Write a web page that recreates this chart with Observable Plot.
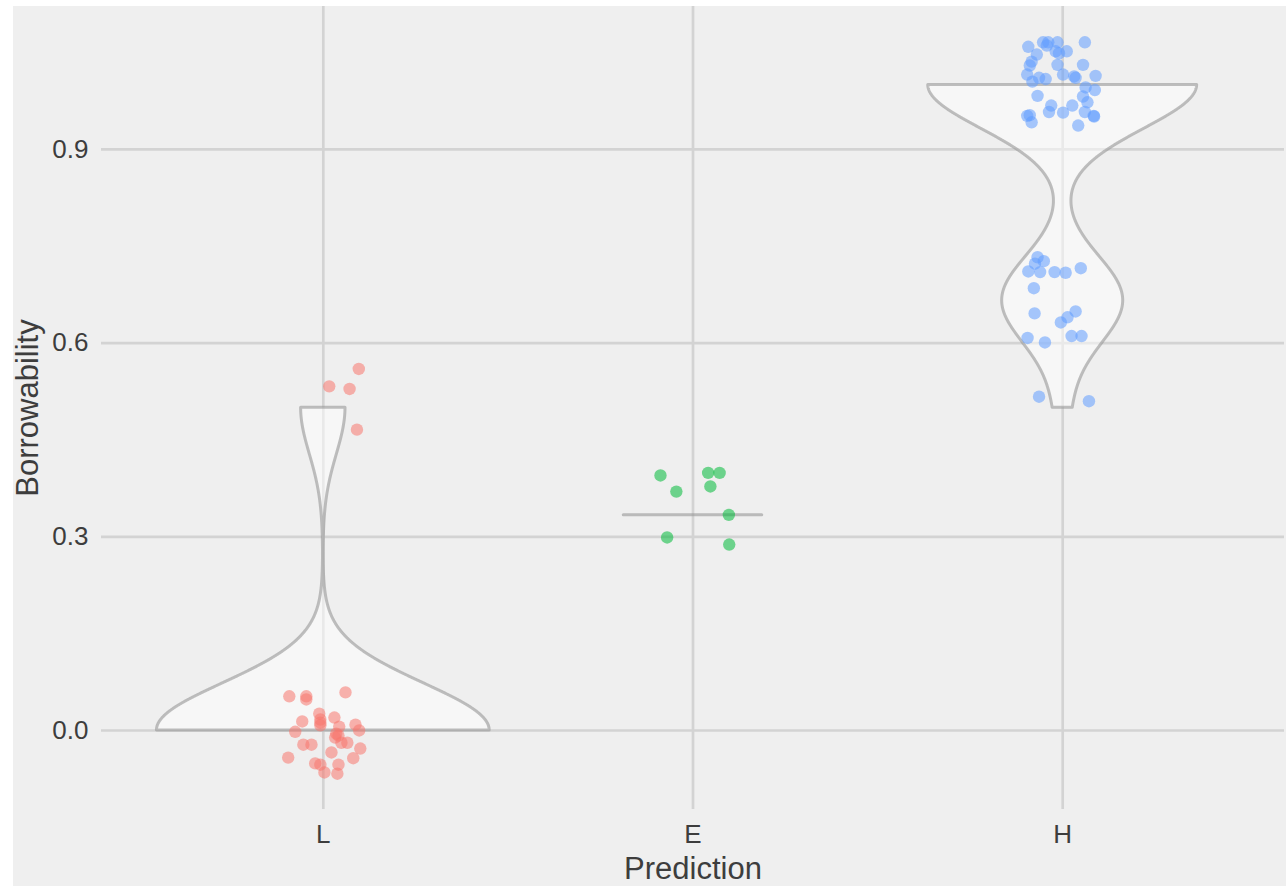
<!DOCTYPE html>
<html>
<head>
<meta charset="utf-8">
<script src="https://cdn.jsdelivr.net/npm/d3@7"></script>
<script src="https://cdn.jsdelivr.net/npm/@observablehq/plot@0.6"></script>
<style>
  html, body { margin: 0; padding: 0; background: #ffffff; overflow: hidden; }
  #bg { position: absolute; left: 13px; top: 6px; width: 1273px; height: 880px; background: #efefef; }
  #chart { position: absolute; left: 0; top: 0; width: 1286px; height: 886px; }
  #chart svg { overflow: visible; }
</style>
</head>
<body>
<div id="bg"></div>
<div id="chart"></div>
<script>
// ---- Categories and tick labels ----
const categories = ["L", "E", "H"];
const yTicks = [0, 0.3, 0.6, 0.9];
const xTitle = "Prediction";
const yTitle = "Borrowability";

// ---- Underlying (un-jittered) values per group, used for the violin densities ----
const levelsL = [0, 0.5];
const countsL = [30, 4];
const levelsE = [1 / 3];
const countsE = [8];
const levelsH = [0.5, 2 / 3, 1];
const countsH = [2, 17, 38];

// ---- Jittered points (horizontal offset in category units, value) ----
const pointsL_dx = [-0.092, -0.046, -0.046, 0.060, -0.011, -0.057, -0.008, -0.008, 0.030, 0.087,
  0.043, -0.076, 0.097, 0.041, 0.032, 0.065, 0.049, -0.054, -0.032, 0.022,
  0.100, -0.095, 0.081, -0.022, -0.008, 0.041, 0.003, 0.038, -0.008, 0.035,
  0.096, 0.016, 0.071, 0.091];
const pointsL_y = [0.053, 0.053, 0.048, 0.059, 0.026, 0.014, 0.017, 0.008, 0.020, 0.009,
  0.006, -0.002, 0.000, -0.008, -0.011, -0.019, -0.019, -0.022, -0.022, -0.034,
  -0.028, -0.042, -0.043, -0.051, -0.053, -0.053, -0.065, -0.067, 0.012, -0.005,
  0.560, 0.533, 0.529, 0.466];

const pointsE_dx = [-0.088, -0.045, 0.041, 0.072, 0.047, 0.097, -0.070, 0.098];
const pointsE_y = [0.395, 0.370, 0.399, 0.399, 0.378, 0.334, 0.299, 0.288];

const pointsH_dx = [-0.093, -0.053, -0.039, -0.014, -0.019, -0.010, 0.011, 0.060, -0.070, -0.084,
  -0.089, -0.014, 0.055, -0.096, -0.064, -0.082, -0.046, 0.001, 0.031, 0.035,
  0.089, 0.062, 0.087, -0.068, 0.055, 0.067, 0.026, -0.031, -0.037, 0.001,
  -0.096, -0.084, 0.060, 0.085, 0.042, -0.043, 0.084, -0.089,
  -0.068, -0.051, -0.075, -0.093, -0.061, -0.022, 0.008, 0.049, -0.078, -0.076,
  0.035, 0.013, -0.005, -0.095, -0.048, 0.024, 0.051,
  -0.064, 0.071];
const pointsH_y = [1.059, 1.066, 1.066, 1.066, 1.052, 1.049, 1.052, 1.066, 1.047, 1.036,
  1.030, 1.031, 1.031, 1.016, 1.011, 1.005, 1.009, 1.016, 1.013, 1.011,
  1.014, 0.996, 0.992, 0.983, 0.982, 0.973, 0.968, 0.968, 0.958, 0.957,
  0.952, 0.942, 0.958, 0.951, 0.937, 1.061, 0.952, 0.953,
  0.733, 0.727, 0.723, 0.711, 0.710, 0.710, 0.709, 0.716, 0.685, 0.646,
  0.649, 0.640, 0.632, 0.608, 0.601, 0.611, 0.611,
  0.517, 0.510];

const groupColors = ["#F8766D", "#00BA38", "#619CFF"];

// ---- Build tables ----
function expand(levels, counts) {
  const out = [];
  levels.forEach((v, i) => { for (let k = 0; k < counts[i]; k++) out.push(v); });
  return out;
}
const rawValues = [expand(levelsL, countsL), expand(levelsE, countsE), expand(levelsH, countsH)];

// R's bw.nrd0
function bwNrd0(x) {
  const s = x.slice().sort(d3.ascending);
  const hi = x.length > 1 ? d3.deviation(s) : 0;
  const iqr = d3.quantileSorted(s, 0.75) - d3.quantileSorted(s, 0.25);
  let lo = Math.min(hi, iqr / 1.34);
  if (!lo) lo = hi || Math.abs(s[0]) || 1;
  return 0.9 * lo * Math.pow(x.length, -0.2);
}
function kde(x, bw, at) {
  const c = 1 / (x.length * bw * Math.sqrt(2 * Math.PI));
  return c * d3.sum(x, xi => Math.exp(-0.5 * ((at - xi) / bw) ** 2));
}
const densities = rawValues.map(x => {
  const bw = bwNrd0(x);
  const [lo, hi] = d3.extent(x);
  const n = 512;
  const rows = [];
  for (let i = 0; i < n; i++) {
    const y = lo + (hi - lo) * i / (n - 1);
    rows.push({ y, d: kde(x, bw, y) });
  }
  return rows;
});
const maxD = d3.max(densities.flat(), r => r.d);
const violinRows = [];
densities.forEach((rows, gi) => rows.forEach(r => {
  const hw = 0.45 * r.d / maxD;
  violinRows.push({ group: categories[gi], y: r.y, x1: gi - hw, x2: gi + hw });
}));

const pointRows = [];
[[pointsL_dx, pointsL_y], [pointsE_dx, pointsE_y], [pointsH_dx, pointsH_y]].forEach(([dxs, ys], gi) => {
  ys.forEach((y, i) => pointRows.push({ group: categories[gi], x: gi + dxs[i], y }));
});

const chart = Plot.plot({
  width: 1286,
  height: 886,
  marginLeft: 101,
  marginRight: 2,
  marginTop: 6,
  marginBottom: 77,
  style: { background: "transparent", fontFamily: "'Liberation Sans', Arial, Helvetica, sans-serif", fontSize: "26px", color: "#3d3d3d", overflow: "visible" },
  x: { type: "linear", domain: [-0.6, 2.6] },
  y: { domain: [-0.1224, 1.1214] },
  color: { domain: categories, range: groupColors },
  marks: [
    Plot.ruleY(yTicks, { stroke: "#d3d3d3", strokeWidth: 2.7 }),
    Plot.ruleX([0, 1, 2], { stroke: "#d3d3d3", strokeWidth: 2.7 }),
    Plot.areaX(violinRows, {
      y: "y", x1: "x1", x2: "x2", z: "group",
      fill: "white", fillOpacity: 0.5,
      stroke: "#999999", strokeOpacity: 0.62, strokeWidth: 3, strokeLinejoin: "round"
    }),
    Plot.dot(pointRows, { x: "x", y: "y", r: 6.2, fill: "group", fillOpacity: 0.55, stroke: "none" }),
    Plot.axisY({ ticks: yTicks, tickFormat: d3.format(".1f"), tickSize: 0, tickPadding: 13, label: null, fontSize: 26 }),
    Plot.axisX({ ticks: [0, 1, 2], tickFormat: i => categories[i], tickSize: 0, tickPadding: 15, label: null, fontSize: 26 }),
    Plot.text([xTitle], { frameAnchor: "bottom", dy: 60, fontSize: 31, textAnchor: "middle", lineAnchor: "middle", text: d => d }),
    Plot.text([yTitle], { frameAnchor: "left", dx: -73, rotate: -90, fontSize: 31, textAnchor: "middle", lineAnchor: "middle", text: d => d })
  ]
});
document.getElementById("chart").appendChild(chart);
</script>
</body>
</html>
